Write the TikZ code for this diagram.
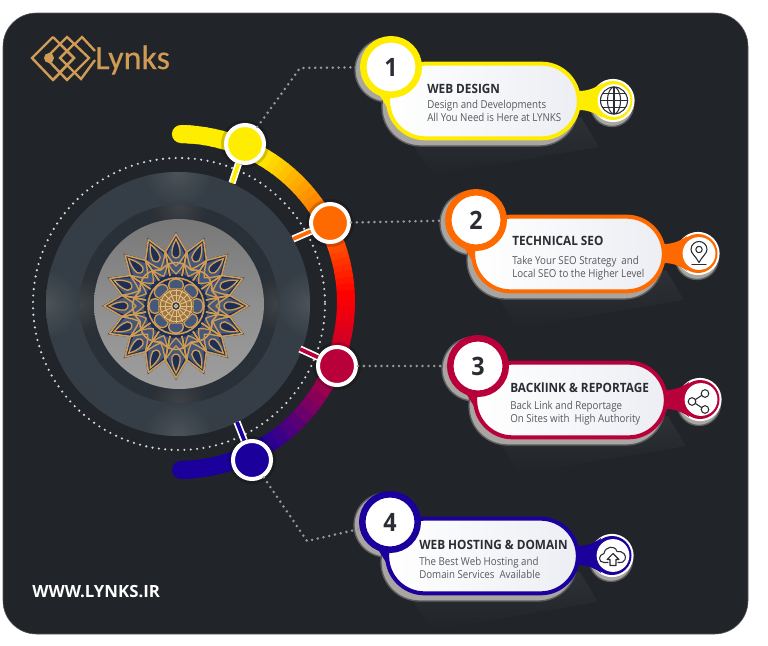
\documentclass[tikz,border=0pt]{standalone}
\usepackage{fontspec}
\usetikzlibrary{positioning,calc}
\setmainfont{Open Sans}
\newfontfamily\bodyfont[FakeStretch=0.89]{Open Sans}
\newfontfamily\headfont[FakeStretch=0.92]{Open Sans}
\newfontfamily\logofont[FakeBold=0.4]{Carlito}
\definecolor{panelc}{HTML}{212428}
\definecolor{webc}{HTML}{FFED00}
\definecolor{seoc}{HTML}{FF6A00}
\definecolor{linkc}{HTML}{B8003A}
\definecolor{hostc}{HTML}{1C009C}
\definecolor{goldc}{HTML}{D09C55}
\definecolor{paleg}{HTML}{E0BE85}
\definecolor{navyc}{HTML}{1D2F55}
\definecolor{slatec}{HTML}{46587A}
\definecolor{inkc}{HTML}{2A2D33}
\definecolor{bodyc}{HTML}{56595E}
\definecolor{edgec}{HTML}{A9A6A2}
\definecolor{rimc}{HTML}{5C5D60}
\definecolor{outerd}{HTML}{353E46}
\definecolor{outerh}{HTML}{4C5359}
\definecolor{innerd}{HTML}{2A3037}
\definecolor{innerh}{HTML}{3F4347}
\definecolor{shadec}{HTML}{2D3034}
\definecolor{cardr}{HTML}{ECEEF3}

\begin{document}
\begin{tikzpicture}[x=0.75pt,y=-0.75pt]
\tikzstyle{dotline}=[draw=gray!80!white,line width=2.1pt,line cap=round,dash pattern=on 0pt off 4.4pt];
\tikzstyle{dotring}=[draw=gray!30!white,line width=1.8pt,line cap=round,dash pattern=on 0pt off 4.8pt];
\tikzstyle{hub}=[circle,draw=white,line width=3pt,minimum size=28.5pt,inner sep=0pt];
\tikzstyle{numbox}=[circle,fill=white,line width=4.9pt,minimum size=41.6pt,inner sep=0pt,text=inkc,font=\headfont\fontsize{19}{19}\selectfont\bfseries];
\tikzstyle{cardbox}=[rectangle,rounded corners=28pt,line width=3pt,minimum width=143pt,minimum height=56pt,inner sep=0pt,left color=white,right color=cardr];
\tikzstyle{cardhead}=[anchor=west,inner sep=0pt,text=inkc,font=\headfont\fontsize{9.6}{10}\selectfont\bfseries];
\tikzstyle{cardtext}=[anchor=west,inner sep=0pt,align=left,text=bodyc,font=\bodyfont\fontsize{8.2}{9.6}\selectfont];
\tikzstyle{iconline}=[draw=inkc,line width=0.8pt,line cap=round,line join=round];

\useasboundingbox (0,0) rectangle (768,646);
\filldraw[fill=panelc,draw=gray!70!black,line width=0.4pt,rounded corners=25pt] (3,13) rectangle (748,634);

% logo
\begin{scope}[draw=goldc,line width=1.8pt]
  \draw (53,37) -- (32,58) -- (53,80) -- (61,72);
  \draw (53,37) -- (74,58) -- (53,80);
  \draw (67,37) -- (46,58) -- (67,80) -- (89,58) -- cycle;
  \draw (75,44) -- (82,37) -- (95,51);
  \draw (95,60) -- (81,79) -- (74,72);
  \draw (67,51) -- (74,58) -- (67,65) -- (60,58) -- cycle;
  \draw (60,44) -- (74,58);
  \draw (74,44) -- (60,58);
  \draw (60,72) -- (67,65) -- (74,72);
\end{scope}
\fill[goldc] (49,58) circle (5);
\node[anchor=west,inner sep=0pt,text=goldc,font=\logofont\fontsize{25.5}{26}\selectfont] (logo) at (95,60) {Lynks};
\node[anchor=west,inner sep=0pt,text=white,font=\fontsize{12.6}{13}\selectfont\bfseries] (site) at (32,592) {WWW.LYNKS.IR};

% discs
\draw[dotring] (179,304) circle (146);
\fill[outerd] (178,304) circle (132);
\begin{scope}
  \clip (178,304) circle (132);
  \foreach \x/\y in {178/172,178/436,46/304,310/304}
    \shade[inner color=outerh,outer color=outerd] (\x,\y) ellipse (34 and 34);
\end{scope}
\fill[innerd] (179,304) circle (99);
\begin{scope}
  \clip (179,304) circle (99);
  \foreach \x/\y in {179/205,179/403,80/304,278/304}
    \shade[inner color=innerh,outer color=innerd] (\x,\y) ellipse (28 and 28);
\end{scope}
\shade[top color=black!53!white,bottom color=black!38!white,middle color=black!44!white] (179,304) circle (85);

% star in the middle
\begin{scope}[shift={(176,306)}]
  \foreach \a in {0,22.5,...,337.5} {
    \begin{scope}[rotate=\a]
      \fill[navyc] (20,-4) -- (54,-11.4) -- (74,0) -- (54,11.4) -- (20,4) -- cycle;
    \end{scope}
  }
  \foreach \a in {0,22.5,...,337.5} {
    \begin{scope}[rotate=\a]
      \fill[slatec] (32,-4.5) -- (52,-8.5) -- (64,-3) -- (64,3) -- (52,8.5) -- (32,4.5) -- cycle;
      \draw[goldc,line width=1.2pt,line join=round] (30,-5.9) -- (54,-10.6) -- (72,0) -- (54,10.6) -- (30,5.9);
      \filldraw[fill=navyc,draw=goldc,line width=1pt] (51,-4) .. controls (57,-4.6) and (62,-2.4) .. (67,0) .. controls (62,2.4) and (57,4.6) .. (51,4) .. controls (47,1.8) and (47,-1.8) .. (51,-4) -- cycle;
      \draw[goldc,line width=1pt] (54,-10.6) .. controls (46,-6) and (43,-3) .. (40,0) .. controls (43,3) and (46,6) .. (54,10.6);
      \draw[goldc,line width=0.9pt] (43,-8.4) .. controls (37,-5) and (35,-3) .. (32,0) .. controls (35,3) and (37,5) .. (43,8.4);
    \end{scope}
  }
  \foreach \a in {0,45,...,315} {
    \begin{scope}[rotate=\a]
      \draw[goldc,line width=1.2pt] (36,-15) .. controls (46,-6) and (46,6) .. (36,15);
    \end{scope}
  }
  \filldraw[fill=navyc,draw=goldc,line width=1.2pt] (0,0) circle (28);
  \foreach \a in {0,45,...,315} {
    \begin{scope}[rotate=\a]
      \filldraw[fill=slatec,draw=goldc,line width=1pt] (17,-6) .. controls (24,-10) and (27,-4) .. (27,0) .. controls (27,4) and (24,10) .. (17,6) -- cycle;
    \end{scope}
  }
  \fill[goldc!75!black] (0,0) circle (17);
  \foreach \a in {0,22.5,...,337.5} {
    \begin{scope}[rotate=\a]
      \draw[paleg,line width=0.7pt] (4,0) -- (17,0);
      \draw[paleg,line width=0.7pt] (15.5,-3.1) -- (15.5,3.1);
      \draw[paleg,line width=0.7pt] (10.5,-2.1) -- (10.5,2.1);
    \end{scope}
  }
  \draw[paleg,line width=0.9pt,fill=navyc] (0,0) circle (4.5);
  \draw[paleg,line width=0.9pt] (0,0) circle (1.8);
\end{scope}

% coloured arc
\begin{scope}[shift={(178,302)}]
  \draw[webc,line width=13.5pt,line cap=round] (-89:168) arc[start angle=-89,end angle=-85,radius=168];
  \draw[hostc,line width=13.5pt,line cap=round] (89:168) arc[start angle=89,end angle=85,radius=168];
  \foreach \ca/\cb/\from/\to in {webc/webc/-89/-62,webc/orange/-62/-36,orange/seoc/-36/-26,seoc/red/-26/-4,red/linkc/-4/22,linkc/hostc/22/58,hostc/hostc/58/89}
    \foreach \k in {0,...,9} {
      \pgfmathsetmacro{\pa}{\from+(\to-\from)*\k/10}
      \pgfmathsetmacro{\pb}{\from+(\to-\from)*(\k+1.2)/10}
      \pgfmathsetmacro{\mixc}{\k*10}
      \draw[color=\cb!\mixc!\ca,line width=13.5pt] (\pa:168) arc[start angle=\pa,end angle=\pb,radius=168];
    }
\end{scope}

% hubs on the arc
\coordinate (stem1) at (232,183);
\coordinate (stem2) at (293,239);
\coordinate (stem3) at (300,349);
\coordinate (stem4) at (237,422);
\coordinate (bend1) at (300,68);
\coordinate (bend4) at (307,541);
\foreach \n/\x/\y/\cc in {1/245/144/webc,2/330/223/seoc,3/337/366/linkc,4/252/460/hostc} {
  \fill[black,opacity=0.18] (\x,\y) circle (24);
  \node[hub,fill=\cc] (hub\n) at (\x,\y) {};
  \draw[white,line width=5.4pt] (hub\n) -- (stem\n);
  \draw[\cc,line width=2.8pt] (hub\n) -- (stem\n);
}

% cards
\foreach \n/\cx/\cy/\cc/\tx/\ty/\by/\head/\body in {
  1/391/67/webc/427/89/110.5/{WEB DESIGN}/{Design and Developments\\All You Need is Here at LYNKS},
  2/476/220/seoc/512/241/268.5/{TECHNICAL SEO}/{Take Your SEO Strategy\ \ and\\Local SEO to the Higher Level},
  3/478/366/linkc/510/388/413/{BACKlINK \& REPORTAGE}/{Back Link and Reportage\\On Sites with\ \ High Authority},
  4/390/522/hostc/419/545/567.5/{WEB HOSTING \& DOMAIN}/{The Best Web Hosting and\\Domain Services\ \ Available}} {
  \shade[top color=shadec,bottom color=panelc] (\cx+22,\cy+78) -- (\cx+190,\cy+50) -- (\cx+208,\cy+80) -- (\cx+42,\cy+108) -- cycle;
  % grey edge under everything
  \filldraw[fill=edgec,draw=rimc,line width=1pt] (\cx-4,\cy+3) circle (32);
  \filldraw[fill=edgec,draw=rimc,line width=1pt,rounded corners=29pt] (\cx-9,\cy) rectangle (\cx+187,\cy+79);
  \filldraw[fill=edgec,draw=rimc,line width=1pt] (\cx+221,\cy+38) circle (21.5);
  \fill[\cc] (\cx-14,\cy+24) -- (\cx-3,\cy+42) -- (\cx+12,\cy+28) -- cycle;
  \node[cardbox,draw=\cc] (card\n) at (\cx+92.5,\cy+34) {};
  \node[circle,fill=white,minimum size=32.4pt,inner sep=0pt] (ring\n) at (\cx+222,\cy+33.5) {};
  \fill[\cc] (\cx+188,\cy+24) .. controls (\cx+198,\cy+24) and (\cx+206,\cy+20) .. (\cx+211,\cy+16) -- (\cx+207,\cy+33.5) -- (\cx+211,\cy+51) .. controls (\cx+206,\cy+47) and (\cx+198,\cy+43) .. (\cx+188,\cy+43) -- cycle;
  \fill[\cc] (\cx+222,\cy+33.5) circle (19.5);
  \node[circle,fill=white,minimum size=24.6pt,inner sep=0pt] (icon\n) at (\cx+223,\cy+33.5) {};
  \node[numbox,draw=\cc] (num\n) at (\cx,\cy) {\n};
  \node[cardhead] (head\n) at (\tx,\ty) {\head};
  \node[cardtext] (text\n) at (\tx,\by) {\body};
}

% dotted connectors
\draw[dotline] (hub1) -- (bend1) -- (num1);
\draw[dotline] (hub2) -- (num2);
\draw[dotline] (hub3) -- (num3);
\draw[dotline] (hub4) -- (bend4) -- (num4);

% globe
\begin{scope}[shift={(icon1)},iconline]
  \draw (0,0) circle (13.5);
  \draw (0,0) ellipse (6.5 and 13.5);
  \draw (0,-13.5) -- (0,13.5);
  \draw (-13.5,0) -- (13.5,0);
  \draw (-11.5,-7) -- (11.5,-7);
  \draw (-11.5,7) -- (11.5,7);
\end{scope}
% pin
\begin{scope}[shift={(icon2)},iconline]
  \draw (0,9) .. controls (-3,3) and (-8,0) .. (-8,-4) .. controls (-8,-9) and (-4,-12) .. (0,-12) .. controls (4,-12) and (8,-9) .. (8,-4) .. controls (8,0) and (3,3) .. (0,9) -- cycle;
  \draw (0,-4) circle (3.2);
  \draw (-7,11) -- (7,11);
\end{scope}
% share
\begin{scope}[shift={(icon3)},iconline]
  \draw (-5.8,0.2) -- (0.8,-4.2);
  \draw (-5.8,3.8) -- (0.8,8.2);
  \draw (-9,2) circle (3.8);
  \draw (4,-6) circle (3.8);
  \draw (4,10) circle (3.8);
\end{scope}
% cloud
\begin{scope}[shift={(icon4)},iconline]
  \draw (-5,7) -- (-9,7) .. controls (-15,7) and (-15,-1) .. (-9,-2) .. controls (-8,-9) and (2,-11) .. (4,-4) .. controls (10,-5) and (14,0) .. (12,4) .. controls (11,7) and (9,7) .. (5,7);
  \draw (-3,10) -- (-3,4) -- (-6,4) -- (0,-2) -- (6,4) -- (3,4) -- (3,10) -- cycle;
\end{scope}

\end{tikzpicture}
\end{document}
